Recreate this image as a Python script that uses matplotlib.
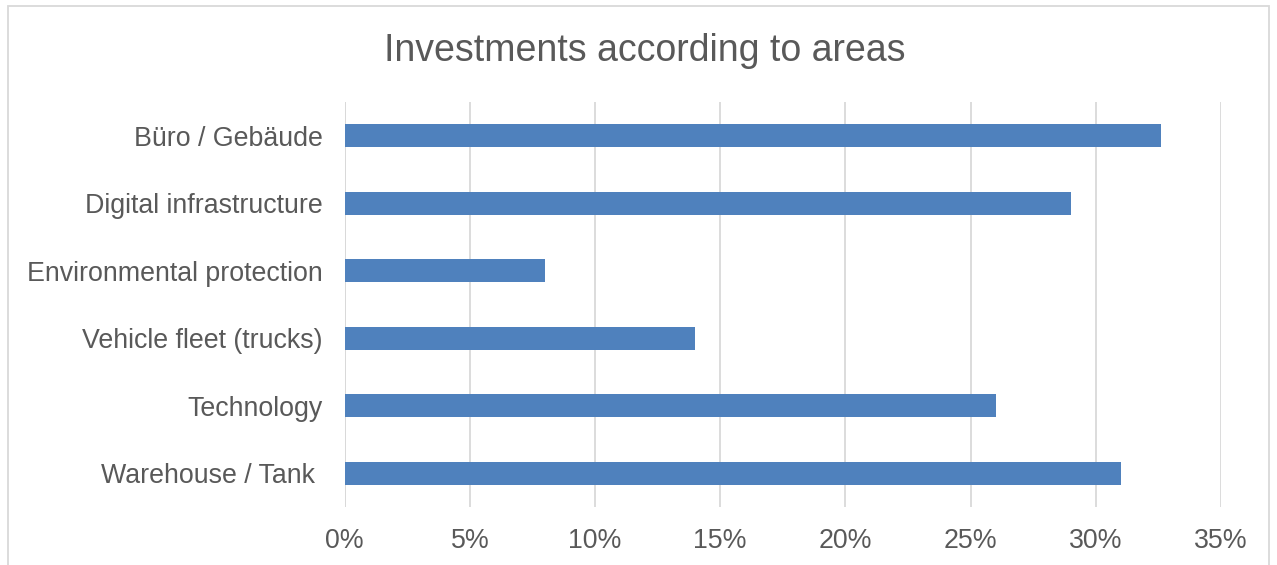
import numpy as np
import matplotlib.pyplot as plt
from matplotlib.patches import Rectangle

# Daten
areas = ["Büro / Gebäude", "Digital infrastructure", "Environmental protection",
         "Vehicle fleet (trucks)", "Technology", "Warehouse / Tank "]
shares = [32.6, 29, 8, 14, 26, 31]
ticks = [0, 5, 10, 15, 20, 25, 30, 35]

plt.rcParams['font.family'] = ['Liberation Sans', 'DejaVu Sans']
txt = "#595959"

fig = plt.figure(figsize=(12.77, 5.65), dpi=100)
ax = fig.add_axes([0.270, 0.1027, 0.686, 0.7168])

y = np.arange(len(areas))
ax.barh(y, shares, height=0.34, color="#4F81BD", zorder=3)
ax.set_ylim(len(areas) - 0.5, -0.5)
ax.set_xlim(0, 35)
ax.set_yticks(y)
ax.set_yticklabels(areas, fontsize=19.3, color=txt)
ax.set_xticks(ticks)
ax.set_xticklabels([f"{t}%" for t in ticks], fontsize=19.3, color=txt)
ax.tick_params(length=0, pad=15, axis="x")
ax.tick_params(length=0, pad=16, axis="y")
ax.grid(axis="x", color="#D9D9D9", linewidth=1.3, zorder=0)
for s in ax.spines.values():
    s.set_visible(False)
ax.axvline(0, color="#D9D9D9", linewidth=1.3, zorder=1)

fig.text(0.505, 0.91, "Investments according to areas", fontsize=27,
         color=txt, ha="center", va="center")

# Rahmen
fig.patches.append(Rectangle((8 / 1277, -0.1), 1261 / 1277, 1.0 - 6 / 565 + 0.1,
                             transform=fig.transFigure, fill=False,
                             edgecolor="#D9D9D9", linewidth=1.3))

fig.savefig("out.png", dpi=100)
